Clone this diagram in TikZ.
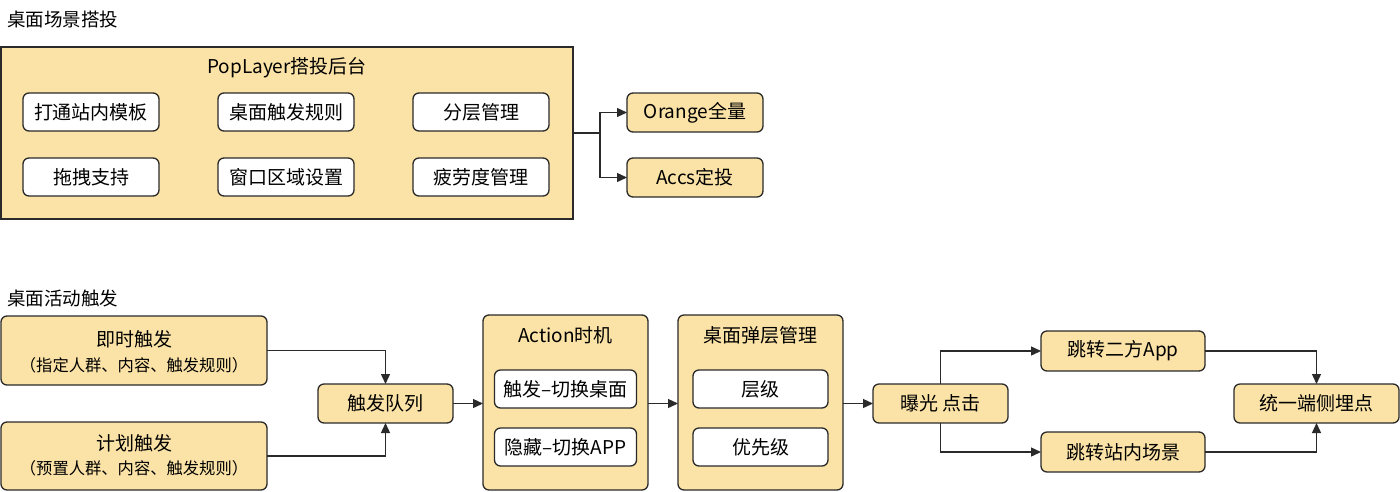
\documentclass[tikz,border=0pt]{standalone}
\usepackage{fontspec}
\setmainfont{Noto Sans CJK SC}
\usetikzlibrary{arrows.meta}
\definecolor{fillc}{HTML}{FBE3A7}
\definecolor{linec}{HTML}{2A2A2A}
\tikzset{
  base/.style={draw=linec, line width=1.3pt, inner sep=0pt, outer sep=0pt, anchor=north west, font=\fontsize{19}{23}\selectfont, text=black},
  grp/.style={base, fill=fillc},
  obox/.style={base, fill=fillc, rounded corners=6pt},
  wbox/.style={base, fill=white, rounded corners=6pt},
  conn/.style={draw=linec, line width=1.3pt},
  arr/.style={conn, -{Triangle[length=10pt,width=9pt]}},
  ttl/.style={anchor=west, inner sep=0pt, font=\fontsize{18.5}{22}\selectfont},
  lbl/.style={inner sep=0pt, font=\fontsize{19}{23}\selectfont},
  sub/.style={inner sep=0pt, font=\fontsize{16.3}{19}\selectfont},
}
\begin{document}
\begin{tikzpicture}[x=1pt,y=-1pt]
\useasboundingbox (0,0) rectangle (1400,491);
% ---------- top section ----------
\node[ttl] (t1) at (7,19) {桌面场景搭投};
\node[grp, minimum width=572pt, minimum height=172pt] (pop) at (1,47) {};
\node[lbl] (poptitle) at (287,68) {PopLayer搭投后台};
\node[wbox, minimum width=136pt, minimum height=38pt] (b1) at (23,93) {打通站内模板};
\node[wbox, minimum width=136pt, minimum height=38pt] (b2) at (218,93) {桌面触发规则};
\node[wbox, minimum width=136pt, minimum height=38pt] (b3) at (413,93) {分层管理};
\node[wbox, minimum width=136pt, minimum height=38pt] (b4) at (23,158) {拖拽支持};
\node[wbox, minimum width=136pt, minimum height=38pt] (b5) at (218,158) {窗口区域设置};
\node[wbox, minimum width=136pt, minimum height=38pt] (b6) at (413,158) {疲劳度管理};
\node[obox, minimum width=136pt, minimum height=39pt] (orange) at (627,93) {Orange全量};
\node[obox, minimum width=136pt, minimum height=39pt] (accs) at (627,158) {Accs定投};
\coordinate (split) at (600,133);
\draw[conn] (pop.east) -- (split);
\draw[arr] (split) |- (orange.west);
\draw[arr] (split) |- (accs.west);
% ---------- bottom section ----------
\node[ttl] (t2) at (7,298) {桌面活动触发};
\node[obox, minimum width=266pt, minimum height=69pt] (imm) at (1,316) {};
\node[lbl] (immt) at (134,339) {即时触发};
\node[sub] (imms) at (134,365) {（指定人群、内容、触发规则）};
\node[obox, minimum width=266pt, minimum height=68pt] (plan) at (1,422) {};
\node[lbl] (plant) at (134,443) {计划触发};
\node[sub] (plans) at (134,468) {（预置人群、内容、触发规则）};
\node[obox, minimum width=135pt, minimum height=39pt] (queue) at (318,384) {触发队列};
\draw[arr] (imm.east) -| (queue.north);
\draw[arr] (plan.east) -| (queue.south);
% Action
\node[obox, minimum width=165pt, minimum height=175pt] (action) at (483,315) {};
\node[lbl] (actiont) at (565.5,335) {Action时机};
\node[wbox, minimum width=142pt, minimum height=38pt] (a1) at (494.5,370) {触发–切换桌面};
\node[wbox, minimum width=142pt, minimum height=38pt] (a2) at (494.5,428) {隐藏–切换APP};
\draw[arr] (queue.east) -- (queue.east -| action.west);
% layer mgmt
\node[obox, minimum width=165pt, minimum height=175pt] (layer) at (678,315) {};
\node[lbl] (layert) at (760.5,335) {桌面弹层管理};
\node[wbox, minimum width=135pt, minimum height=38pt] (l1) at (693,370) {层级};
\node[wbox, minimum width=135pt, minimum height=38pt] (l2) at (693,428) {优先级};
\draw[arr] (action.east |- queue.east) -- (layer.west |- queue.east);
% expose
\node[obox, minimum width=135pt, minimum height=39pt] (expose) at (873,384) {曝光 点击};
\draw[arr] (layer.east |- expose.west) -- (expose.west);
\node[obox, minimum width=164pt, minimum height=40pt] (app) at (1041,331) {跳转二方App};
\node[obox, minimum width=164pt, minimum height=40pt] (scene) at (1041,432) {跳转站内场景};
\node[obox, minimum width=165pt, minimum height=39pt] (unify) at (1234,384) {统一端侧埋点};
\draw[arr] (expose.north) |- (app.west);
\draw[arr] (expose.south) |- (scene.west);
\draw[arr] (app.east) -| (unify.north);
\draw[arr] (scene.east) -| (unify.south);
\end{tikzpicture}
\end{document}
